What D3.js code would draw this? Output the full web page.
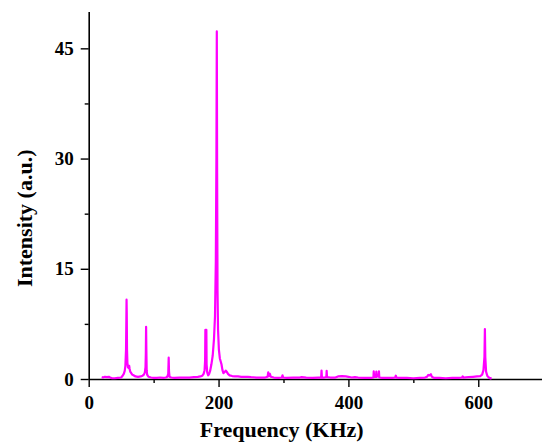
<!DOCTYPE html>
<html>
<head>
<meta charset="utf-8">
<script src="https://cdn.jsdelivr.net/npm/d3@7"></script>
<style>
  body { margin: 0; background: #fff; }
  text { font-family: "Liberation Serif", "Times New Roman", serif; font-weight: bold; }
</style>
</head>
<body>
<svg id="canvas" width="542" height="442"></svg>
<script>
// Spectrum: frequency (KHz) and intensity (a.u.)
let freq = [20, 22, 25, 28, 31, 33, 36, 40, 45, 50, 52, 54, 55.5, 56.5, 57.5, 58, 58.3, 58.6, 59, 59.6,
  60.5, 61.5, 62.3, 63, 64, 65.5, 67, 69, 72, 76, 80, 83, 85, 86.5, 87.5, 88, 88.4, 88.8, 89.3, 90,
  92, 96, 100, 105, 110, 115, 119, 121, 122.5, 123.2, 123.7, 124.5, 127, 132, 140, 148, 155, 162, 168, 172,
  175, 177, 178.5, 179.3, 179.7, 180.2, 180.7, 181.2, 181.6, 182.5,
  184, 185.5, 187, 189, 191, 193, 194.5, 195.8, 196.7, 197.3, 197.8, 198.4, 199.2, 200.5, 202, 204.5, 206, 207.5, 209.5, 211,
  212.5, 214.5, 217, 221, 225, 230, 235, 240,
  245, 250, 258, 265, 272, 275.5, 276.5, 277.5, 279, 280.5, 285, 292, 297.5, 298.5, 299.5, 305, 315, 325, 328, 335,
  345, 354, 358, 358.6, 359.2, 363, 366, 366.5, 367, 372, 380, 384, 390, 396, 400, 405, 410, 415, 425, 435,
  438.5, 439, 439.6, 442.5, 443, 443.5, 446.5, 447, 447.6, 452, 460, 468, 472, 473, 474, 480, 490, 500, 510, 518,
  521, 523, 525, 527, 528.5, 532, 540, 550, 560, 570, 575, 576, 577, 585, 592, 598, 603, 606, 608, 609.5,
  610.2, 610.8, 612, 614, 617, 620.5]
let intensity = [0.25, 0.2, 0.3, 0.25, 0.3, 0.2, 0.1, 0.1, 0.15, 0.2, 0.4, 0.7, 1.1, 1.8, 4, 8, 10.8, 9, 4, 2.2,
  1.6, 1.5, 1.8, 1.4, 1.0, 0.8, 0.6, 0.5, 0.35, 0.3, 0.35, 0.45, 0.6, 0.9, 1.6, 3.5, 7.1, 4, 1.2, 0.6,
  0.3, 0.2, 0.15, 0.15, 0.2, 0.15, 0.2, 0.3, 0.7, 2.9, 1.0, 0.3, 0.2, 0.15, 0.2, 0.2, 0.2, 0.25, 0.3, 0.35,
  0.45, 0.7, 1.2, 2.5, 6.7, 3.0, 5.5, 6.7, 2.0, 0.9,
  0.5, 0.7, 1.1, 2.0, 3.2, 5.5, 8.5, 16, 30, 47.3, 28, 12, 6.7, 4, 2.8, 2.0, 1.2, 0.8, 0.95, 1.15,
  1.0, 0.7, 0.5, 0.4, 0.35, 0.35, 0.3, 0.3,
  0.3, 0.25, 0.2, 0.2, 0.2, 0.3, 0.9, 0.4, 0.7, 0.3, 0.2, 0.15, 0.2, 0.5, 0.2, 0.15, 0.2, 0.2, 0.25, 0.2,
  0.15, 0.2, 0.2, 1.15, 0.2, 0.2, 0.25, 1.1, 0.25, 0.2, 0.2, 0.35, 0.4, 0.35, 0.3, 0.2, 0.25, 0.2, 0.15, 0.15,
  0.2, 1.05, 0.3, 0.3, 1.0, 0.3, 0.4, 1.05, 0.2, 0.15, 0.15, 0.15, 0.2, 0.45, 0.2, 0.15, 0.15, 0.1, 0.15, 0.2,
  0.3, 0.55, 0.5, 0.65, 0.3, 0.15, 0.15, 0.1, 0.15, 0.15, 0.2, 0.35, 0.2, 0.25, 0.3, 0.35, 0.4, 0.6, 1.2, 3,
  6.8, 3, 1.0, 0.4, 0.15, 0.05]

let xMajor = [0, 200, 400, 600]
let xMinor = [100, 300, 500]
let yMajor = [0, 15, 30, 45]
let yMinor = [7.5, 22.5, 37.5]

let canvas = d3.select("#canvas")

let x = d3.scaleLinear().domain([0, 700]).range([88.7, 543.2])
let y = d3.scaleLinear().domain([0, 50]).range([379, 11.6])

//Axes: major ticks with labels, minor ticks without
let xAxis = canvas.append("g").attr("transform", "translate(0,379)")
xAxis.call(d3.axisBottom(x).tickValues(xMajor).tickSize(8).tickSizeOuter(0).tickPadding(9))
xAxis.append("g").call(d3.axisBottom(x).tickValues(xMinor).tickSize(4).tickFormat(""))
  .select(".domain").remove()

let yAxis = canvas.append("g").attr("transform", "translate(88.7,0)")
yAxis.call(d3.axisLeft(y).tickValues(yMajor).tickSize(8).tickSizeOuter(0).tickPadding(7))
yAxis.append("g").call(d3.axisLeft(y).tickValues(yMinor).tickSize(4).tickFormat(""))
  .select(".domain").remove()

canvas.selectAll(".domain").attr("stroke", "#000").attr("stroke-width", 1.6)
canvas.selectAll(".tick line").attr("stroke", "#000").attr("stroke-width", 1.4)
canvas.selectAll(".tick text")
  .attr("fill", "#000")
  .style("font-size", "19px")
  .style("font-family", "Liberation Serif")
  .style("font-weight", "bold")

//Spectrum line
let line = d3.line()
  .x((d, i) => x(freq[i]))
  .y((d, i) => y(intensity[i]))

canvas.append("path")
  .datum(freq)
  .attr("d", line)
  .attr("fill", "none")
  .attr("stroke", "#ff00ff")
  .attr("stroke-width", 2.2)
  .attr("stroke-linejoin", "round")

//Axis titles
canvas.append("text")
  .attr("x", 281.7)
  .attr("y", 436.5)
  .attr("text-anchor", "middle")
  .style("font-size", "22px")
  .text("Frequency (KHz)")

canvas.append("text")
  .attr("transform", "translate(31.5,218.3) rotate(-90)")
  .attr("text-anchor", "middle")
  .style("font-size", "22px")
  .text("Intensity (a.u.)")
</script>
</body>
</html>
